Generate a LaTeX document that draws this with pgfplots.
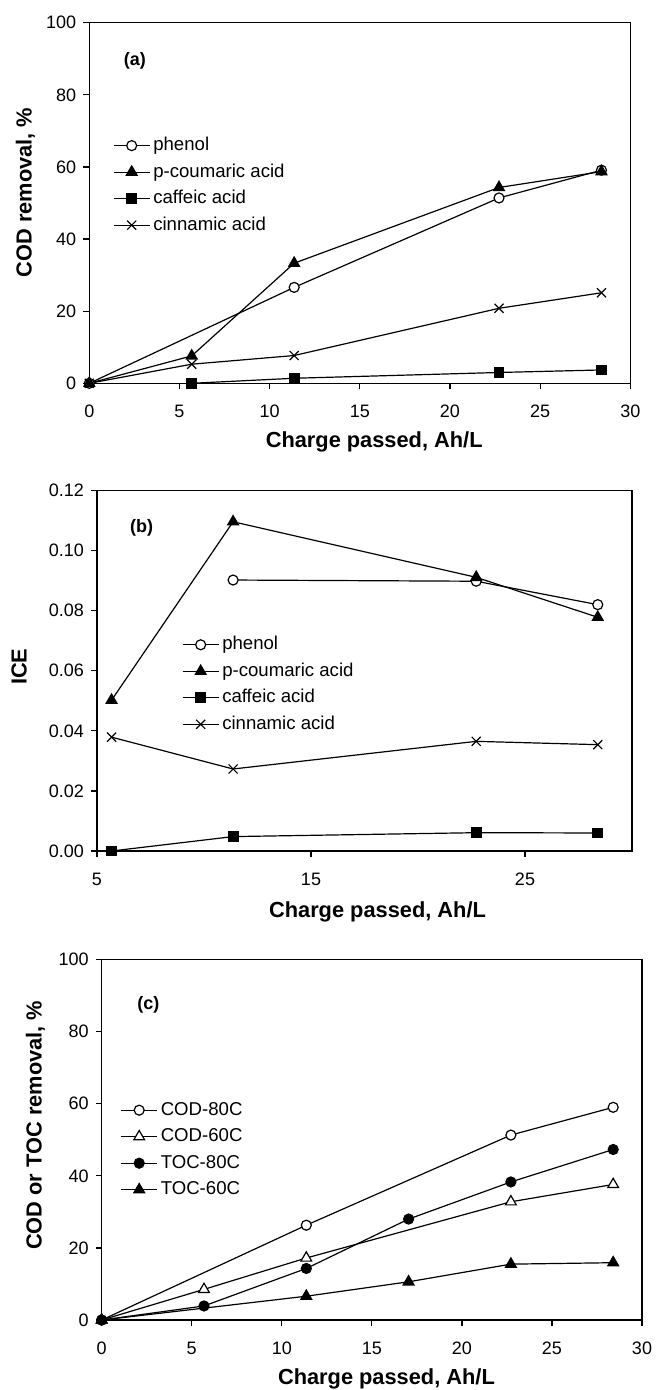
\documentclass[border=0pt]{standalone}
\usepackage{fontspec}
\setmainfont{Liberation Sans}
\usepackage{pgfplots}
\pgfplotsset{compat=1.18}

\pgfplotsset{
  panel/.style={
    scale only axis,
    clip=false,
    axis line style={black, line width=0.7pt},
    tick style={black, line width=0.6pt},
    tick align=outside,
    tick pos=left,
    major tick length=3pt,
    /pgf/number format/assume math mode=true,
    ticklabel style={font=\fontsize{9}{10}\selectfont},
    xticklabel style={yshift=-4.5pt},
    label style={font=\bfseries\fontsize{10.9}{12}\selectfont},
    every axis plot/.append style={black, line width=0.6pt, mark size=2.5pt},
    legend style={draw=none, fill=none, inner sep=0pt, outer sep=0pt, anchor=north west,
      font=\fontsize{9.3}{11}\selectfont, row sep=4.25pt,
      nodes={inner xsep=1.5pt, inner ysep=0pt, text height=7pt, text depth=2pt}},
    legend cell align=left,
    legend image code/.code={\draw[mark repeat=2,mark phase=2,##1] plot coordinates {(0pt,0pt) (9pt,0pt) (18pt,0pt)};},
  },
  opencirc/.style={mark=*, mark options={solid, fill=white}},
  fillcirc/.style={mark=*, mark options={solid, fill=black}},
  filltri/.style={mark=triangle*, mark size=3.1pt, mark options={solid, fill=black}},
  opentri/.style={mark=triangle*, mark size=3.1pt, mark options={solid, fill=white}},
  fillsq/.style={mark=square*, mark size=2.4pt, mark options={solid, fill=black}},
  cross/.style={mark=x, mark size=3.2pt, mark options={solid}},
}

\begin{document}
\begin{tikzpicture}
\useasboundingbox (0pt,0pt) rectangle (328pt,-695pt);

% ---------------- Panel (a)
\begin{axis}[panel,
  at={(44.65pt,-11.35pt)}, anchor=north west,
  width=270.5pt, height=180.3pt,
  xmin=0, xmax=30, ymin=0, ymax=100,
  xtick={0,5,...,30}, ytick={0,20,...,100},
  xlabel={Charge passed, Ah/L},
  ylabel={COD removal, \%},
  xlabel style={at={(axis description cs:0.5,0)}, anchor=center, yshift=-29.4pt, xshift=7.2pt},
  ylabel style={at={(axis description cs:0,0.5)}, anchor=center, yshift=31.9pt, xshift=5.25pt},
  legend style={at={(0.044,0.684)}},
]
\addplot[opencirc] coordinates {(0,0) (11.36,26.6) (22.72,51.4) (28.4,59.1)};
\addlegendentry{phenol}
\addplot[filltri] coordinates {(0,0) (5.68,7.6) (11.36,33.3) (22.72,54.3) (28.4,58.7)};
\addlegendentry{p-coumaric acid}
\addplot[fillsq] coordinates {(5.68,0) (11.36,1.4) (22.72,3.0) (28.4,3.7)};
\addlegendentry{caffeic acid}
\addplot[cross] coordinates {(0,0) (5.68,5.3) (11.36,7.7) (22.72,20.8) (28.4,25.1)};
\addlegendentry{cinnamic acid}
\node[font=\bfseries\fontsize{9}{10}\selectfont] at (axis cs:2.53,89.3) {(a)};
\end{axis}

% ---------------- Panel (b)
\begin{axis}[panel,
  at={(48.5pt,-245.25pt)}, anchor=north west,
  width=267.5pt, height=180.25pt,
  xmin=5, xmax=30, ymin=0, ymax=0.12,
  xtick={5,15,25}, ytick={0,0.02,...,0.12},
  scaled y ticks=false,
  yticklabel style={/pgf/number format/.cd, fixed, fixed zerofill, precision=2},
  xlabel={Charge passed, Ah/L},
  ylabel={ICE},
  xlabel style={at={(axis description cs:0.5,0)}, anchor=center, yshift=-30.6pt, xshift=6.5pt},
  ylabel style={at={(axis description cs:0,0.5)}, anchor=center, yshift=39pt, xshift=2pt},
  legend style={at={(0.159,0.597)}},
]
\addplot[opencirc] coordinates {(11.36,0.0902) (22.72,0.0898) (28.4,0.0820)};
\addlegendentry{phenol}
\addplot[filltri] coordinates {(5.68,0.0502) (11.36,0.1096) (22.72,0.0911) (28.4,0.0778)};
\addlegendentry{p-coumaric acid}
\addplot[fillsq] coordinates {(5.68,0.0) (11.36,0.0048) (22.72,0.0061) (28.4,0.0060)};
\addlegendentry{caffeic acid}
\addplot[cross] coordinates {(5.68,0.0379) (11.36,0.0273) (22.72,0.0365) (28.4,0.0354)};
\addlegendentry{cinnamic acid}
\node[font=\bfseries\fontsize{9}{10}\selectfont] at (axis cs:7.09,0.1076) {(b)};
\end{axis}

% ---------------- Panel (c)
\begin{axis}[panel,
  at={(50.85pt,-479.75pt)}, anchor=north west,
  width=270.15pt, height=180.25pt,
  xmin=0, xmax=30, ymin=0, ymax=100,
  xtick={0,5,...,30}, ytick={0,20,...,100},
  xlabel={Charge passed, Ah/L},
  ylabel={COD or TOC removal, \%},
  xlabel style={at={(axis description cs:0.5,0)}, anchor=center, yshift=-29.5pt, xshift=7.3pt},
  ylabel style={at={(axis description cs:0,0.5)}, anchor=center, yshift=33.1pt, xshift=7.25pt},
  legend style={at={(0.035,0.607)}},
]
\addplot[opencirc] coordinates {(0,0) (11.36,26.3) (22.72,51.3) (28.4,59.0)};
\addlegendentry{COD-80C}
\addplot[opentri] coordinates {(0,0) (5.68,8.5) (11.36,17.2) (22.72,32.8) (28.4,37.6)};
\addlegendentry{COD-60C}
\addplot[fillcirc] coordinates {(0,0) (5.68,3.9) (11.36,14.3) (17.04,28.0) (22.72,38.3) (28.4,47.3)};
\addlegendentry{TOC-80C}
\addplot[filltri] coordinates {(0,0) (11.36,6.6) (17.04,10.6) (22.72,15.5) (28.4,15.9)};
\addlegendentry{TOC-60C}
\node[font=\bfseries\fontsize{9}{10}\selectfont] at (axis cs:2.59,87.5) {(c)};
\end{axis}
\end{tikzpicture}
\end{document}
